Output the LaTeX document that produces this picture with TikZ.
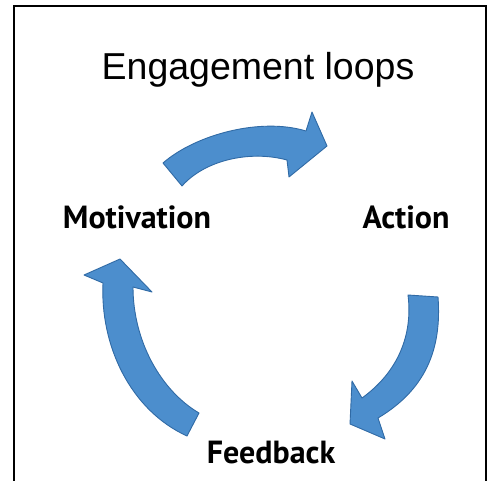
\documentclass[tikz,border=0pt]{standalone}
\usepackage{fontspec}
\setmainfont{Liberation Sans}
\newfontfamily\stagefont{PT Sans}
\definecolor{loopblue}{RGB}{76,142,205}
\definecolor{loopedge}{RGB}{48,106,165}

\begin{document}
\begin{tikzpicture}[
  x=1pt, y=-1pt,
  heading/.style={font=\fontsize{37.5}{40}\selectfont, anchor=base},
  stage/.style={font=\stagefont\bfseries\fontsize{32}{34}\selectfont, anchor=base},
  looparrow/.style={fill=loopblue, draw=loopedge, line width=0.9pt, line join=round}
]
\useasboundingbox (0,0) rectangle (487,481);

% Frame
\draw[line width=2pt] (13.5,481) -- (13.5,6.5) -- (486,6.5) -- (486,481);

% Title
\node (title) [heading] at (258,80) {Engagement loops};

% Stages
\node (motivation) [stage] at (137,228) {Motivation};
\node (action) [stage] at (406,229) {Action};
\node (feedback) [stage] at (271,463) {Feedback};

% Motivation to Action
\filldraw[looparrow] (163,163) .. controls (195,135) and (260,117) .. (306,131)
  -- (312,112) -- (327,146) -- (289,177) -- (287,160)
  .. controls (250,150) and (205,160) .. (182,186) -- cycle;

% Action to Feedback
\filldraw[looparrow] (438,297) .. controls (442,350) and (425,390) .. (378,418)
  -- (385,439) -- (350,424) -- (352,381) -- (362,398)
  .. controls (398,372) and (413,335) .. (408,295) -- cycle;

% Feedback to Motivation
\filldraw[looparrow] (187,436) .. controls (130,410) and (100,345) .. (103,283)
  -- (84,275) -- (120,259) -- (152,292) -- (133,287)
  .. controls (133,340) and (160,390) .. (199,413) -- cycle;

\end{tikzpicture}
\end{document}
